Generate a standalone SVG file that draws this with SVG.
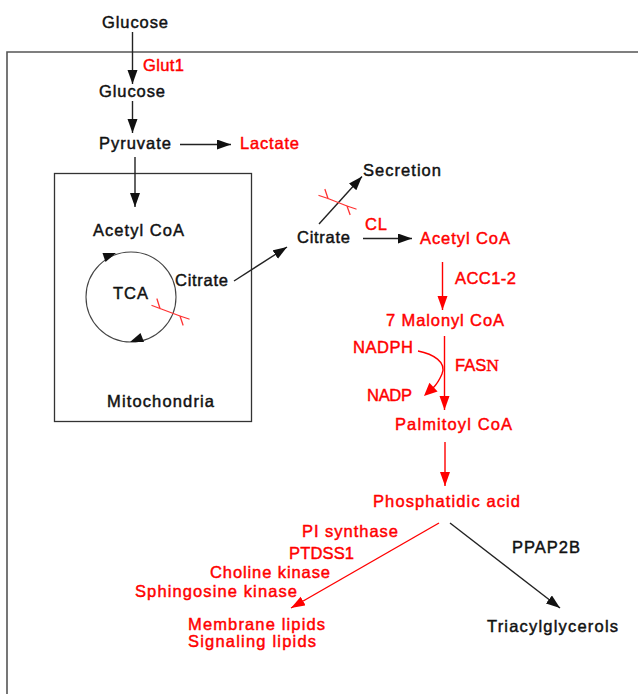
<svg xmlns="http://www.w3.org/2000/svg" width="638" height="694" viewBox="0 0 638 694">
<defs>
<style>
.t{font-family:"Liberation Sans",Arial,Helvetica,sans-serif;font-size:16.5px;stroke-width:0.45px}
.k{fill:#111;stroke:#111}
.r{fill:#f00;stroke:#f00}
.lk{stroke:#222;stroke-width:1.4;fill:none}
.lr{stroke:#f00;stroke-width:1.4;fill:none}
.frame{stroke:#555;stroke-width:1.6;fill:none}
.box{stroke:#333;stroke-width:1.3;fill:none}
.tr{stroke:#f33;stroke-width:1.3;fill:none;stroke-linecap:round;stroke-linejoin:round}
</style>
<marker id="ak" markerUnits="userSpaceOnUse" markerWidth="15" markerHeight="11" refX="14" refY="5" orient="auto"><path d="M0,0 L14,5 L0,10 z" fill="#111"/></marker>
<marker id="ar" markerUnits="userSpaceOnUse" markerWidth="15" markerHeight="11" refX="14" refY="5" orient="auto"><path d="M0,0 L14,5 L0,10 z" fill="#f00"/></marker>
</defs>
<rect width="638" height="694" fill="#fff"/>
<path class="frame" d="M7,694 V52 H638"/>

<g id="mitochondria">
<rect class="box" x="54.5" y="173.5" width="197" height="248"/>
<text class="t k" x="107" y="407" textLength="107">Mitochondria</text>
</g>

<g id="connectors">
<line class="lk" x1="132.5" y1="32" x2="132.5" y2="84" marker-end="url(#ak)"/>
<line class="lk" x1="132.5" y1="101" x2="132.5" y2="133" marker-end="url(#ak)"/>
<line class="lk" x1="180" y1="144.5" x2="231" y2="144.5" marker-end="url(#ak)"/>
<line class="lk" x1="135" y1="157" x2="135" y2="207" marker-end="url(#ak)"/>
<line class="lk" x1="234" y1="281" x2="287" y2="247" marker-end="url(#ak)"/>
<line class="lk" x1="319" y1="224" x2="362" y2="176.5" marker-end="url(#ak)"/>
<line class="lk" x1="363" y1="238.5" x2="412" y2="238.5" marker-end="url(#ak)"/>
<line class="lr" x1="442.5" y1="262" x2="442.5" y2="310" marker-end="url(#ar)"/>
<line class="lr" x1="444.5" y1="336" x2="444.5" y2="410" marker-end="url(#ar)"/>
<line class="lr" x1="445" y1="442" x2="445" y2="486" marker-end="url(#ar)"/>
<path class="lr" d="M418,351 C433,354 447,362 442,374 C439,381 436,385 433,388"/>
<polygon points="424,396 437.6,391.5 429.4,382.7" fill="#f00"/>
<line class="lr" x1="439" y1="523" x2="291" y2="608" marker-end="url(#ar)"/>
<line class="lk" x1="450" y1="523" x2="560" y2="608" marker-end="url(#ak)"/>
</g>

<g id="tca-cycle">
<circle cx="131" cy="297" r="45" fill="none" stroke="#444" stroke-width="1.1"/>
<polygon points="116,253 105.5,262 102.5,253" fill="#111"/>
<polygon points="130,342 144,342 140.5,333" fill="#111"/>
<text class="t k" x="113" y="299" textLength="35">TCA</text>
</g>

<g id="transporter-mito">
<path class="tr" d="M160,308.5 L180,316 M160,308.5 L152,305.5 M160,308.5 L157,299 M180,316 L189,319 M180,316 L183,325"/>
</g>
<g id="transporter-secretion">
<path class="tr" d="M328,198.5 L347,206 M328,198.5 L319,195.5 M328,198.5 L325,189.5 M347,206 L356,209 M347,206 L350,214.5"/>
</g>

<g id="glucose-out"><text class="t k" x="102" y="28" textLength="66">Glucose</text></g>
<g id="glut1"><text class="t r" x="143" y="71" textLength="41">Glut1</text></g>
<g id="glucose-in"><text class="t k" x="99" y="97" textLength="66">Glucose</text></g>
<g id="pyruvate"><text class="t k" x="99" y="149" textLength="72">Pyruvate</text></g>
<g id="lactate"><text class="t r" x="240" y="149" textLength="59">Lactate</text></g>
<g id="acetylcoa-mito"><text class="t k" x="93" y="236" textLength="91">Acetyl CoA</text></g>
<g id="citrate-mito"><text class="t k" x="175" y="286" textLength="53">Citrate</text></g>
<g id="secretion"><text class="t k" x="363" y="176" textLength="78">Secretion</text></g>
<g id="citrate"><text class="t k" x="297" y="243" textLength="53">Citrate</text></g>
<g id="cl"><text class="t r" x="365" y="230" textLength="22">CL</text></g>
<g id="acetylcoa"><text class="t r" x="420" y="244" textLength="90">Acetyl CoA</text></g>
<g id="acc"><text class="t r" x="455" y="284" textLength="61">ACC1-2</text></g>
<g id="malonyl"><text class="t r" x="386" y="326" textLength="118">7 Malonyl CoA</text></g>
<g id="nadph"><text class="t r" x="353" y="353" textLength="60">NADPH</text></g>
<g id="fasn"><text class="t r" x="455" y="371">FAS<tspan font-family="'Liberation Serif','Times New Roman',serif" font-size="17.5">N</tspan></text></g>
<g id="nadp"><text class="t r" x="367" y="401" textLength="45">NADP</text></g>
<g id="palmitoyl"><text class="t r" x="395" y="430" textLength="117">Palmitoyl CoA</text></g>
<g id="phosphatidic"><text class="t r" x="373" y="507" textLength="147">Phosphatidic acid</text></g>
<g id="enzymes">
<text class="t r" x="302" y="537" textLength="96">PI synthase</text>
<text class="t r" x="289" y="559" textLength="65">PTDSS1</text>
<text class="t r" x="210" y="578" textLength="120">Choline kinase</text>
<text class="t r" x="135" y="597" textLength="162">Sphingosine kinase</text>
</g>
<g id="lipids">
<text class="t r" x="188" y="630" textLength="137">Membrane lipids</text>
<text class="t r" x="188" y="647" textLength="128">Signaling lipids</text>
</g>
<g id="ppap2b"><text class="t k" x="512" y="553" textLength="68">PPAP2B</text></g>
<g id="triacylglycerols"><text class="t k" x="487" y="632" textLength="131">Triacylglycerols</text></g>
</svg>
